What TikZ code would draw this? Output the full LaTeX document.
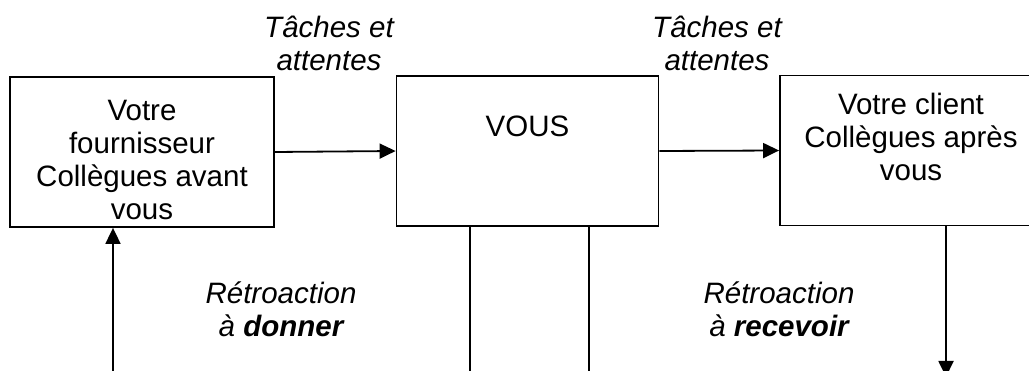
\documentclass[tikz,border=0pt]{standalone}
\usepackage{fontspec}
\setmainfont{Liberation Sans}
\usetikzlibrary{arrows.meta}
\begin{document}
\begin{tikzpicture}[x=1pt,y=-1pt,line width=1.8pt,
        boite/.style={draw,minimum width=262,minimum height=150},
        texte/.style={inner sep=0pt,align=center,font=\fontsize{29.5}{33}\selectfont},
        fleche/.style={-{Triangle[length=16pt,width=15pt]}}]
        \useasboundingbox (0,0) rectangle (1029,371);
        \clip (0,0) rectangle (1029,371);
        % les trois cases
        \node[boite,minimum width=264] (fourn) at (142,152) {};
        \node[boite] (vous) at (527.5,151) {};
        \node[boite] (client) at (911,150.5) {};
        \node[texte] (tfourn) at (142,159.5) {Votre\\fournisseur\\Collègues avant\\vous};
        \node[texte] (tvous) at (527.5,126.5) {VOUS};
        \node[texte] (tclient) at (911,136.5) {Votre client\\Collègues après\\vous};
        % les fleches
        \draw [fleche] (fourn.east) -- (vous.west);
        \draw [fleche] (vous.east) -- (client.west);
        \node[texte,font=\fontsize{29.5}{33}\selectfont\itshape] (taches1) at (329,43.5) {Tâches et\\attentes};
        \node[texte,font=\fontsize{29.5}{33}\selectfont\itshape] (taches2) at (717,43.5) {Tâches et\\attentes};
        \coordinate (g) at (113,380);
        \coordinate (m1) at (470,380);
        \coordinate (m2) at (589,380);
        \coordinate (d) at (946,377);
        \draw [fleche] (g) -- (g |- fourn.south);
        \draw (vous.south -| m1) -- (m1);
        \draw (vous.south -| m2) -- (m2);
        \draw [fleche] (d |- client.south) -- (d);
        \node[texte,font=\fontsize{29.5}{33}\selectfont\itshape] (donner) at (281,309) {Rétroaction\\à \textbf{donner}};
        \node[texte,font=\fontsize{29.5}{33}\selectfont\itshape] (recevoir) at (779,309) {Rétroaction\\à \textbf{recevoir}};
    \end{tikzpicture}
\end{document}
